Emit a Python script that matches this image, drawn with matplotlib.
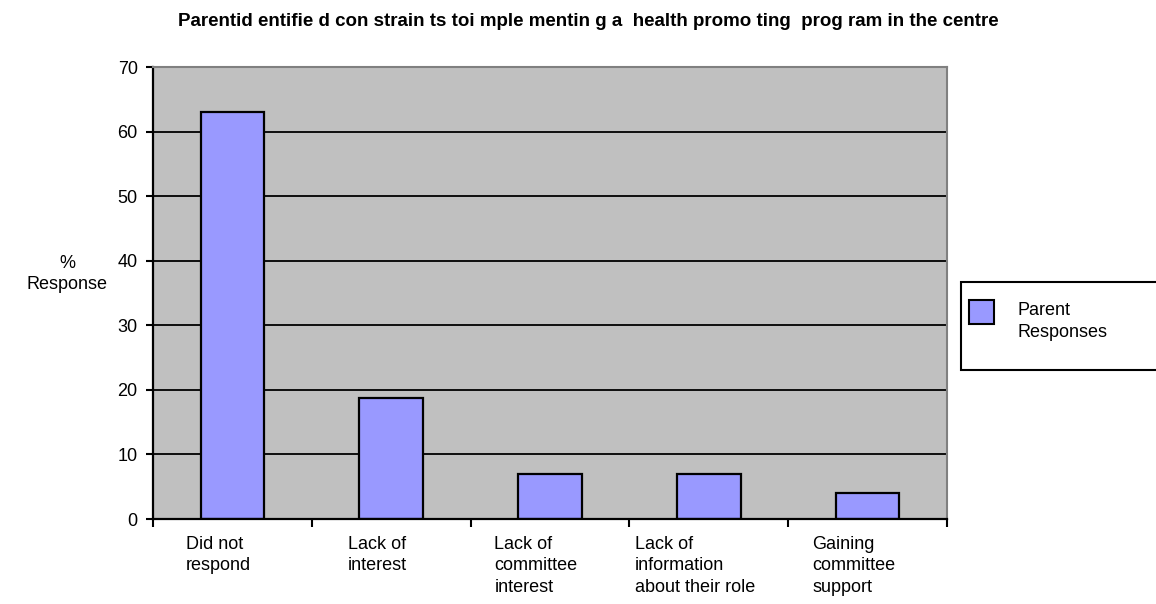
import matplotlib
matplotlib.use("Agg")
import matplotlib.pyplot as plt
import matplotlib.transforms as mtransforms
from matplotlib.patches import Rectangle

plt.rcParams['font.family'] = ['Liberation Sans', 'DejaVu Sans']

# Data
categories = [
    "Did not\nrespond",
    "Lack of\ninterest",
    "Lack of\ncommittee\ninterest",
    "Lack of\ninformation\nabout their role",
    "Gaining\ncommittee\nsupport",
]
responses = [63.0, 18.8, 6.9, 6.9, 4.0]
y_ticks = [0, 10, 20, 30, 40, 50, 60, 70]
series_name = "Parent\nResponses"
title = ("Parentid entifie d con strain ts toi mple mentin g a  health promo ting  "
         "prog ram in the centre")

bar_color = "#9999FF"
plot_bg = "#C0C0C0"

W, H = 1156, 604
fig = plt.figure(figsize=(W / 100, H / 100), dpi=100)
ax = fig.add_axes([153 / W, (H - 519) / H, (947 - 153) / W, (519 - 67) / H])
ax.set_facecolor(plot_bg)

x = list(range(len(categories)))
ax.bar(x, responses, width=0.4, color=bar_color, edgecolor="black",
       linewidth=1.6, zorder=3)

ax.set_xlim(-0.5, len(categories) - 0.5)
ax.set_ylim(0, 70)
ax.set_yticks(y_ticks)
ax.set_yticklabels([str(v) for v in y_ticks], fontsize=13)

# horizontal gridlines
for v in y_ticks[1:-1]:
    ax.axhline(v, color="black", linewidth=1.3, zorder=1)

# spines
for side in ("top", "right"):
    ax.spines[side].set_color("#808080")
    ax.spines[side].set_linewidth(1.5)
for side in ("left", "bottom"):
    ax.spines[side].set_color("black")
    ax.spines[side].set_linewidth(1.6)
ax.spines["bottom"].set_zorder(4)

ax.tick_params(axis="y", direction="out", length=5, width=1.5, pad=6,
               colors="black")

# category boundaries as ticks, labels at centres
ax.set_xticks([i - 0.5 for i in range(len(categories) + 1)], minor=True)
ax.tick_params(axis="x", which="minor", direction="out", length=6, width=1.5)
ax.set_xticks(x)
ax.set_xticklabels(categories, fontsize=13, linespacing=1.35,
                   multialignment="left", va="top")
ax.tick_params(axis="x", which="major", length=0, pad=12)
shift = mtransforms.ScaledTranslation(-14 / 100, 0, fig.dpi_scale_trans)
for lab in ax.get_xticklabels():
    lab.set_transform(lab.get_transform() + shift)

# axis title
fig.text(67 / W, 1 - 274 / H, "%\nResponse", fontsize=13, ha="center",
         va="center", linespacing=1.35)

# chart title
fig.text(588 / W, 1 - 22 / H, title, fontsize=13.5, fontweight="bold",
         ha="center", va="center")

# legend box
fig.patches.append(Rectangle((961 / W, 1 - 370 / H), 300 / W, 88 / H,
                             transform=fig.transFigure, facecolor="white",
                             edgecolor="black", linewidth=1.5))
fig.patches.append(Rectangle((969 / W, 1 - 324 / H), 25 / W, 24 / H,
                             transform=fig.transFigure, facecolor=bar_color,
                             edgecolor="black", linewidth=1.5))
fig.text(1018 / W, 1 - 302 / H, series_name, fontsize=13, ha="left",
         va="top", linespacing=1.35)

fig.savefig("out.png", dpi=100, facecolor="white")
